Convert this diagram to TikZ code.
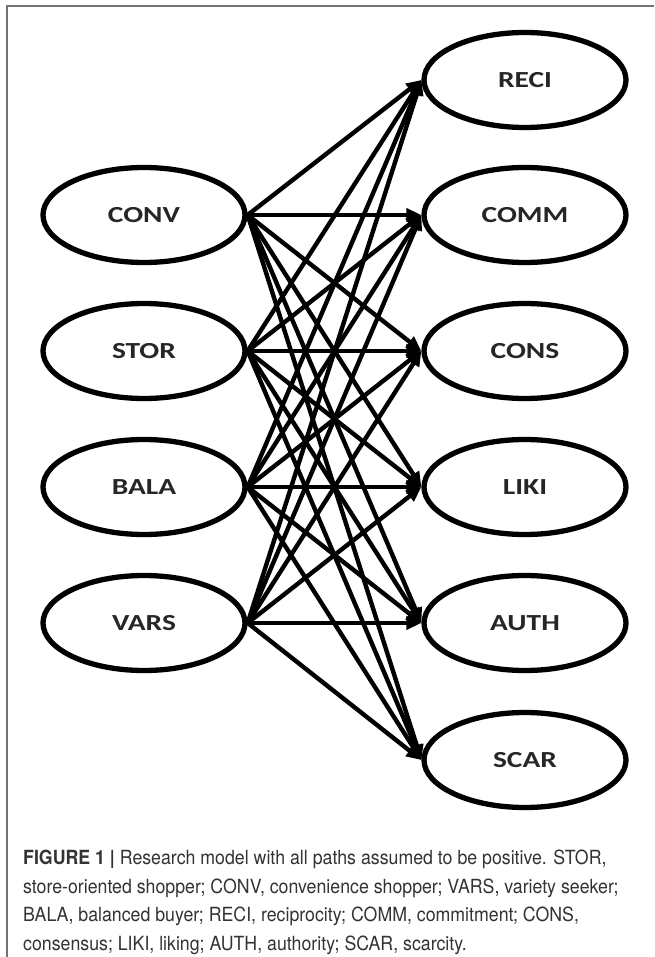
\documentclass[tikz,border=0pt]{standalone}
\usepackage{fontspec}
\setmainfont{TeX Gyre Heros}
\newfontfamily\nodefont[FakeStretch=1.28]{Carlito}
\newfontfamily\capfont[FakeStretch=0.91]{TeX Gyre Heros}
\usetikzlibrary{arrows.meta,shapes.geometric}
\definecolor{framegray}{gray}{0.45}
\definecolor{txtgray}{gray}{0.2}
\definecolor{nodetxt}{gray}{0.15}
\tikzset{
  varnode/.style={ellipse, draw=black, line width=5.3pt, inner sep=0pt,
    minimum width=202pt, minimum height=95pt,
    font=\nodefont\fontsize{23}{26}\selectfont\bfseries, text=nodetxt},
  pathline/.style={line width=4.4pt, draw=black,
    -{Triangle[length=15pt,width=13pt]}},
}
\begin{document}
\begin{tikzpicture}[x=1pt,y=-1pt]
\useasboundingbox (0,0) rectangle (654,957);
\fill[white] (0,0) rectangle (654,957);
\draw[framegray, line width=1.5pt] (7,957) -- (7,6) -- (654,6);
% left column
\node[varnode] (conv) at (144,215) {CONV};
\node[varnode] (stor) at (144,351) {STOR};
\node[varnode] (bala) at (144,487) {BALA};
\node[varnode] (vars) at (144,623) {VARS};
% right column
\node[varnode] (reci) at (525,80) {RECI};
\node[varnode] (comm) at (525,215) {COMM};
\node[varnode] (cons) at (525,351) {CONS};
\node[varnode] (liki) at (525,487) {LIKI};
\node[varnode] (auth) at (525,623) {AUTH};
\node[varnode] (scar) at (525,760) {SCAR};
\foreach \s in {conv,stor,bala,vars}{
  \foreach \t in {reci,comm,cons,liki,auth,scar}{
    \draw[pathline] (\s.east) -- (\t.west);
  }
}
\node[anchor=north west, inner sep=0pt, align=left,
  font=\capfont\fontsize{19.5}{28.5}\selectfont, text=txtgray] (caption) at (23,850)
  {\textbf{FIGURE 1 |} Research model with all paths assumed to be positive. STOR,\\
  store-oriented shopper; CONV, convenience shopper; VARS, variety seeker;\\
  BALA, balanced buyer; RECI, reciprocity; COMM, commitment; CONS,\\
  consensus; LIKI, liking; AUTH, authority; SCAR, scarcity.};
\end{tikzpicture}
\end{document}
